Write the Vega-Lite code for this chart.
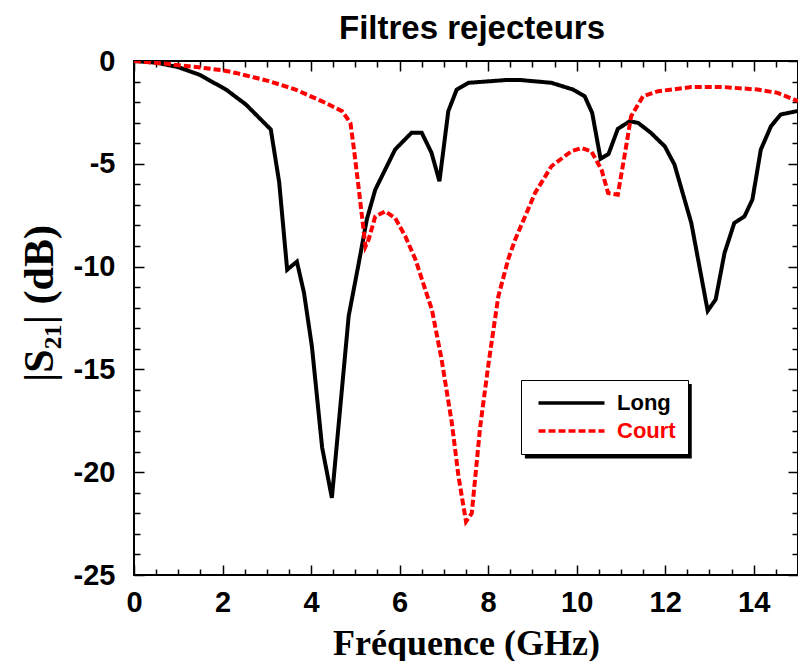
{
  "$schema": "https://vega.github.io/schema/vega-lite/v6.json",
  "width": 664,
  "height": 514,
  "autosize": {"type": "none"},
  "padding": {"left": 134, "top": 61, "right": 0, "bottom": 86},
  "background": "white",
  "title": {"text": "Filtres rejecteurs", "font": "Liberation Sans", "fontSize": 33, "fontWeight": "bold", "color": "black", "anchor": "middle", "frame": "group", "offset": 1, "dx": 6},
  "config": {
    "view": {"stroke": "black", "strokeWidth": 2},
    "axis": {"grid": false, "domain": false, "tickColor": "black", "tickWidth": 1.5, "labelColor": "black", "labelFont": "Liberation Sans", "labelFontWeight": "bold", "labelFontSize": 29, "labelFlush": false, "labelOverlap": false, "titleColor": "black", "titleFont": "Liberation Serif", "titleFontWeight": "bold"},
    "legend": {"orient": "none", "legendX": 387, "legendY": 319, "fillColor": "white", "strokeColor": "black", "padding": 12, "labelFont": "Liberation Sans", "labelFontSize": 22, "labelFontWeight": "bold", "symbolSize": 121, "symbolStrokeWidth": 3.5, "symbolType": "M-1,0H11", "labelOffset": 62, "rowPadding": 6}
  },
  "layer": [
    {
      "data": {"values": [{}]},
      "mark": {"type": "rect", "color": "black"},
      "encoding": {
        "x": {"datum": 8.83, "type": "quantitative", "scale": {"domain": [0, 15], "nice": false, "zero": false}, "axis": {"orient": "top", "values": [0,0.5,1,1.5,2,2.5,3,3.5,4,4.5,5,5.5,6,6.5,7,7.5,8,8.5,9,9.5,10,10.5,11,11.5,12,12.5,13,13.5,14,14.5,15], "labels": false, "title": null, "tickSize": {"condition": {"test": "datum.value % 2 === 0", "value": -10}, "value": -6}}},
        "x2": {"datum": 12.6},
        "y": {"datum": -15.71, "type": "quantitative", "scale": {"domain": [-25, 0], "nice": false, "zero": false}, "axis": {"orient": "right", "values": [-25,-24,-23,-22,-21,-20,-19,-18,-17,-16,-15,-14,-13,-12,-11,-10,-9,-8,-7,-6,-5,-4,-3,-2,-1,0], "labels": false, "title": null, "tickSize": {"condition": {"test": "datum.value % 5 === 0", "value": -10}, "value": -6}}},
        "y2": {"datum": -19.33}
      }
    },
    {
      "data": {"values": [
        {"f": 0, "s": 0, "series": "Long"},
        {"f": 0.5, "s": -0.08, "series": "Long"},
        {"f": 1.0, "s": -0.3, "series": "Long"},
        {"f": 1.47, "s": -0.66, "series": "Long"},
        {"f": 2.08, "s": -1.39, "series": "Long"},
        {"f": 2.53, "s": -2.12, "series": "Long"},
        {"f": 3.09, "s": -3.33, "series": "Long"},
        {"f": 3.28, "s": -5.9, "series": "Long"},
        {"f": 3.46, "s": -10.15, "series": "Long"},
        {"f": 3.68, "s": -9.76, "series": "Long"},
        {"f": 3.84, "s": -11.27, "series": "Long"},
        {"f": 4.02, "s": -13.9, "series": "Long"},
        {"f": 4.25, "s": -18.8, "series": "Long"},
        {"f": 4.47, "s": -21.25, "series": "Long"},
        {"f": 4.85, "s": -12.4, "series": "Long"},
        {"f": 5.08, "s": -9.8, "series": "Long"},
        {"f": 5.26, "s": -7.7, "series": "Long"},
        {"f": 5.45, "s": -6.26, "series": "Long"},
        {"f": 5.9, "s": -4.3, "series": "Long"},
        {"f": 6.27, "s": -3.49, "series": "Long"},
        {"f": 6.5, "s": -3.49, "series": "Long"},
        {"f": 6.72, "s": -4.46, "series": "Long"},
        {"f": 6.9, "s": -5.85, "series": "Long"},
        {"f": 7.1, "s": -2.44, "series": "Long"},
        {"f": 7.29, "s": -1.39, "series": "Long"},
        {"f": 7.56, "s": -1.06, "series": "Long"},
        {"f": 8.38, "s": -0.93, "series": "Long"},
        {"f": 8.75, "s": -0.93, "series": "Long"},
        {"f": 9.43, "s": -1.06, "series": "Long"},
        {"f": 9.92, "s": -1.39, "series": "Long"},
        {"f": 10.18, "s": -1.71, "series": "Long"},
        {"f": 10.35, "s": -2.52, "series": "Long"},
        {"f": 10.54, "s": -4.76, "series": "Long"},
        {"f": 10.72, "s": -4.52, "series": "Long"},
        {"f": 10.93, "s": -3.3, "series": "Long"},
        {"f": 11.2, "s": -2.93, "series": "Long"},
        {"f": 11.39, "s": -3.01, "series": "Long"},
        {"f": 11.68, "s": -3.5, "series": "Long"},
        {"f": 11.99, "s": -4.15, "series": "Long"},
        {"f": 12.21, "s": -5.04, "series": "Long"},
        {"f": 12.59, "s": -7.88, "series": "Long"},
        {"f": 12.96, "s": -12.15, "series": "Long"},
        {"f": 13.14, "s": -11.6, "series": "Long"},
        {"f": 13.34, "s": -9.34, "series": "Long"},
        {"f": 13.56, "s": -7.88, "series": "Long"},
        {"f": 13.79, "s": -7.56, "series": "Long"},
        {"f": 13.97, "s": -6.74, "series": "Long"},
        {"f": 14.16, "s": -4.31, "series": "Long"},
        {"f": 14.39, "s": -3.17, "series": "Long"},
        {"f": 14.61, "s": -2.6, "series": "Long"},
        {"f": 15.0, "s": -2.43, "series": "Long"},
        {"f": 0, "s": 0, "series": "Court"},
        {"f": 0.65, "s": -0.12, "series": "Court"},
        {"f": 1.55, "s": -0.33, "series": "Court"},
        {"f": 2.0, "s": -0.45, "series": "Court"},
        {"f": 2.3, "s": -0.58, "series": "Court"},
        {"f": 3.05, "s": -0.98, "series": "Court"},
        {"f": 3.65, "s": -1.39, "series": "Court"},
        {"f": 4.33, "s": -2.04, "series": "Court"},
        {"f": 4.7, "s": -2.44, "series": "Court"},
        {"f": 4.89, "s": -3.01, "series": "Court"},
        {"f": 4.97, "s": -4.31, "series": "Court"},
        {"f": 5.08, "s": -6.26, "series": "Court"},
        {"f": 5.23, "s": -9.02, "series": "Court"},
        {"f": 5.3, "s": -8.69, "series": "Court"},
        {"f": 5.45, "s": -7.56, "series": "Court"},
        {"f": 5.68, "s": -7.31, "series": "Court"},
        {"f": 5.9, "s": -7.64, "series": "Court"},
        {"f": 6.13, "s": -8.53, "series": "Court"},
        {"f": 6.36, "s": -9.66, "series": "Court"},
        {"f": 6.58, "s": -11.12, "series": "Court"},
        {"f": 6.73, "s": -12.1, "series": "Court"},
        {"f": 6.95, "s": -14.53, "series": "Court"},
        {"f": 7.18, "s": -17.6, "series": "Court"},
        {"f": 7.33, "s": -20.2, "series": "Court"},
        {"f": 7.5, "s": -22.4, "series": "Court"},
        {"f": 7.63, "s": -22.0, "series": "Court"},
        {"f": 7.82, "s": -17.8, "series": "Court"},
        {"f": 8.01, "s": -14.7, "series": "Court"},
        {"f": 8.23, "s": -11.45, "series": "Court"},
        {"f": 8.46, "s": -9.6, "series": "Court"},
        {"f": 8.61, "s": -8.69, "series": "Court"},
        {"f": 9.06, "s": -6.42, "series": "Court"},
        {"f": 9.43, "s": -5.12, "series": "Court"},
        {"f": 9.88, "s": -4.39, "series": "Court"},
        {"f": 10.11, "s": -4.23, "series": "Court"},
        {"f": 10.33, "s": -4.39, "series": "Court"},
        {"f": 10.56, "s": -5.28, "series": "Court"},
        {"f": 10.71, "s": -6.42, "series": "Court"},
        {"f": 10.93, "s": -6.5, "series": "Court"},
        {"f": 11.08, "s": -4.63, "series": "Court"},
        {"f": 11.23, "s": -2.69, "series": "Court"},
        {"f": 11.5, "s": -1.71, "series": "Court"},
        {"f": 11.84, "s": -1.47, "series": "Court"},
        {"f": 12.59, "s": -1.27, "series": "Court"},
        {"f": 13.34, "s": -1.27, "series": "Court"},
        {"f": 14.09, "s": -1.39, "series": "Court"},
        {"f": 14.54, "s": -1.55, "series": "Court"},
        {"f": 15.0, "s": -1.95, "series": "Court"}
      ]},
      "mark": {"type": "line", "strokeWidth": 4, "clip": true},
      "encoding": {
        "x": {"field": "f", "type": "quantitative", "scale": {"domain": [0, 15], "nice": false, "zero": false}, "axis": {"orient": "bottom", "values": [0,0.5,1,1.5,2,2.5,3,3.5,4,4.5,5,5.5,6,6.5,7,7.5,8,8.5,9,9.5,10,10.5,11,11.5,12,12.5,13,13.5,14,14.5,15], "labelExpr": "datum.value % 2 === 0 ? toString(datum.value) : ''", "tickSize": {"condition": {"test": "datum.value % 2 === 0", "value": -10}, "value": -6}, "labelPadding": 23, "title": "Fréquence (GHz)", "titleFontSize": 36, "titlePadding": 5}},
        "y": {"field": "s", "type": "quantitative", "scale": {"domain": [-25, 0], "nice": false, "zero": false}, "axis": {"orient": "left", "values": [-25,-24,-23,-22,-21,-20,-19,-18,-17,-16,-15,-14,-13,-12,-11,-10,-9,-8,-7,-6,-5,-4,-3,-2,-1,0], "labelExpr": "datum.value % 5 === 0 ? toString(datum.value) : ''", "tickSize": {"condition": {"test": "datum.value % 5 === 0", "value": -10}, "value": -6}, "labelPadding": 29, "title": "|S₂₁| (dB)", "titleFontSize": 42, "titlePadding": 12, "titleY": 242}},
        "color": {"field": "series", "type": "nominal", "scale": {"domain": ["Long", "Court"], "range": ["#000000", "#ff0000"]}, "legend": {"title": null, "encode": {"labels": {"update": {"fill": {"signal": "datum.label === 'Court' ? '#ff0000' : '#000000'"}}}}}},
        "strokeDash": {"field": "series", "type": "nominal", "scale": {"domain": ["Long", "Court"], "range": [[1, 0], [7, 3]]}, "legend": {"title": null, "encode": {"labels": {"update": {"fill": {"signal": "datum.label === 'Court' ? '#ff0000' : '#000000'"}}}}}}
      }
    }
  ],
  "resolve": {"axis": {"x": "independent", "y": "independent"}}
}
